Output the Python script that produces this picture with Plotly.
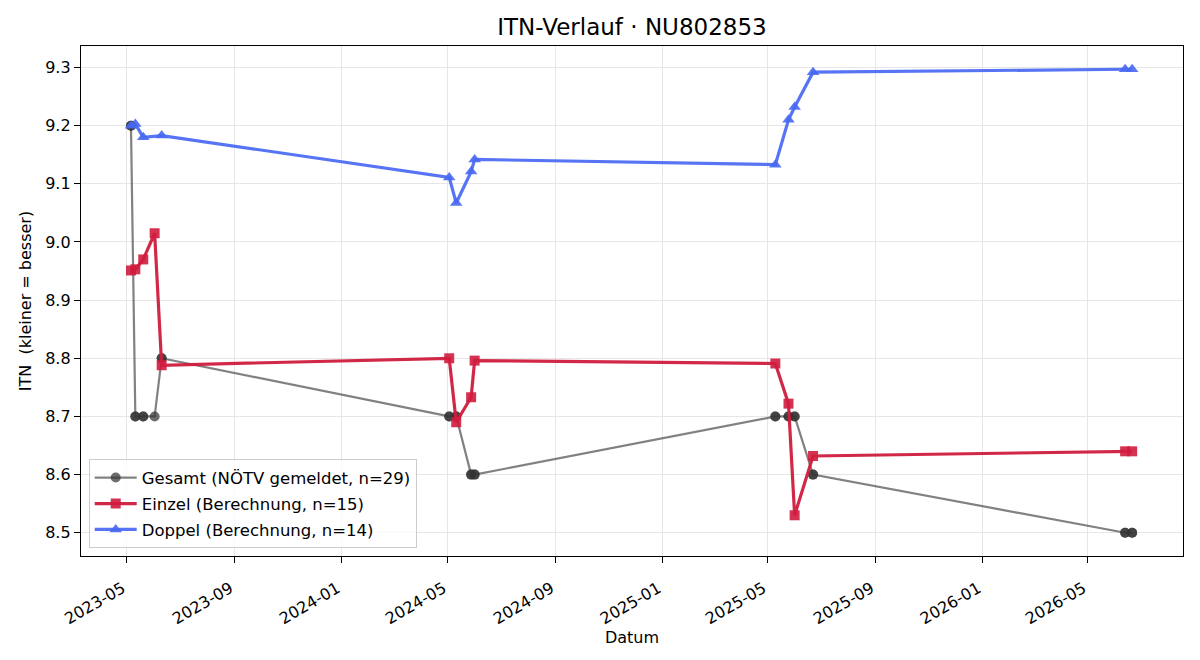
import plotly.graph_objects as go

# Einzel (singles) results
einzel_dates = [
    "2023-05-06", "2023-05-11", "2023-05-20", "2023-06-02", "2023-06-10",
    "2024-05-03", "2024-05-11", "2024-05-28", "2024-06-01",
    "2025-05-10", "2025-05-25", "2025-06-01", "2025-06-22",
    "2026-06-13", "2026-06-21",
]
einzel_itn = [
    8.951, 8.953, 8.970, 9.015, 8.788,
    8.800, 8.690, 8.733, 8.796,
    8.791, 8.722, 8.530, 8.632,
    8.640, 8.640,
]

# Doppel (doubles) results
doppel_dates = [
    "2023-05-06", "2023-05-11", "2023-05-20", "2023-06-10",
    "2024-05-03", "2024-05-11", "2024-05-28", "2024-06-01",
    "2025-05-10", "2025-05-25", "2025-06-01", "2025-06-22",
    "2026-06-13", "2026-06-21",
]
doppel_itn = [
    9.200, 9.203, 9.180, 9.183,
    9.111, 9.067, 9.121, 9.142,
    9.133, 9.210, 9.232, 9.292,
    9.297, 9.297,
]

# Gesamt (reported ITN), one entry per tournament
gesamt_dates = [
    "2023-05-06", "2023-05-06", "2023-05-11", "2023-05-11", "2023-05-20",
    "2023-05-20", "2023-06-02", "2023-06-10", "2023-06-10",
    "2024-05-03", "2024-05-03", "2024-05-11", "2024-05-11",
    "2024-05-28", "2024-05-28", "2024-06-01", "2024-06-01",
    "2025-05-10", "2025-05-10", "2025-05-25", "2025-05-25",
    "2025-06-01", "2025-06-01", "2025-06-22", "2025-06-22",
    "2026-06-13", "2026-06-13", "2026-06-21", "2026-06-21",
]
gesamt_itn = [
    9.2, 9.2, 8.7, 8.7, 8.7,
    8.7, 8.7, 8.8, 8.8,
    8.7, 8.7, 8.7, 8.7,
    8.6, 8.6, 8.6, 8.6,
    8.7, 8.7, 8.7, 8.7,
    8.7, 8.7, 8.6, 8.6,
    8.5, 8.5, 8.5, 8.5,
]

y_ticks = [8.5, 8.6, 8.7, 8.8, 8.9, 9.0, 9.1, 9.2, 9.3]

FONT = "DejaVu Sans"

fig = go.Figure()

fig.add_trace(go.Scatter(
    x=gesamt_dates, y=gesamt_itn,
    mode="lines+markers",
    name=f"Gesamt (NÖTV gemeldet, n={len(gesamt_itn)})",
    legendgroup="g",
    line=dict(color="rgba(51,51,51,0.62)", width=2.2),
    marker=dict(symbol="circle", size=10, color="rgba(51,51,51,0.72)", line=dict(width=0)),
))

fig.add_trace(go.Scatter(
    x=einzel_dates, y=einzel_itn,
    mode="lines+markers",
    name=f"Einzel (Berechnung, n={len(einzel_itn)})",
    legendgroup="e",
    line=dict(color="rgba(208,28,62,0.95)", width=3.2),
    marker=dict(symbol="square", size=10, color="rgba(208,28,62,0.9)", line=dict(width=0)),
))

fig.add_trace(go.Scatter(
    x=doppel_dates, y=doppel_itn,
    mode="lines+markers",
    name=f"Doppel (Berechnung, n={len(doppel_itn)})",
    legendgroup="d",
    line=dict(color="rgba(72,104,242,0.92)", width=3.2),
    marker=dict(symbol="triangle-up", size=11, color="rgba(72,104,242,0.9)", line=dict(width=0)),
))

# Update layout (page body adds 8px offset, so margins are shifted by that)
fig.update_layout(
    width=1200, height=660,
    paper_bgcolor="white", plot_bgcolor="white",
    font=dict(family=FONT, size=16, color="black"),
    title=dict(text="ITN-Verlauf · NU802853", x=0.5, xref="paper",
               y=1 - 19 / 660, yref="container", yanchor="middle",
               font=dict(size=23, family=FONT)),
    margin=dict(l=73, r=25, t=38, b=112),
    showlegend=True,
    legend=dict(
        x=0.007, y=0.015, xanchor="left", yanchor="bottom",
        bgcolor="rgba(255,255,255,0.8)", bordercolor="#cccccc", borderwidth=1,
        font=dict(size=16.5, family=FONT), tracegroupgap=1.5, itemwidth=42,
    ),
)

fig.update_xaxes(
    range=["2023-03-10", "2026-08-18"],
    tick0="2023-01-01", dtick="M4", tickformat="%Y-%m", tickangle=-30,
    ticks="outside", ticklen=6, tickcolor="black", tickfont=dict(size=16),
    ticklabelstandoff=10, ticklabelshift=-4,
    showgrid=True, gridcolor="#e6e6e6", gridwidth=1.2,
    showline=True, linecolor="black", linewidth=1.3, mirror=True,
    zeroline=False, automargin=False,
    title=dict(text="Datum", font=dict(size=16), standoff=2),
)

fig.update_yaxes(
    range=[8.460, 9.337],
    tickvals=y_ticks, tickformat=".1f",
    ticks="outside", ticklen=6, tickcolor="black", tickfont=dict(size=16),
    showgrid=True, gridcolor="#e6e6e6", gridwidth=1.2,
    showline=True, linecolor="black", linewidth=1.3, mirror=True,
    zeroline=False, automargin=False,
    title=dict(text="ITN\u00a0 (kleiner = besser)", font=dict(size=16), standoff=9),
)

fig.write_html("out.html")
